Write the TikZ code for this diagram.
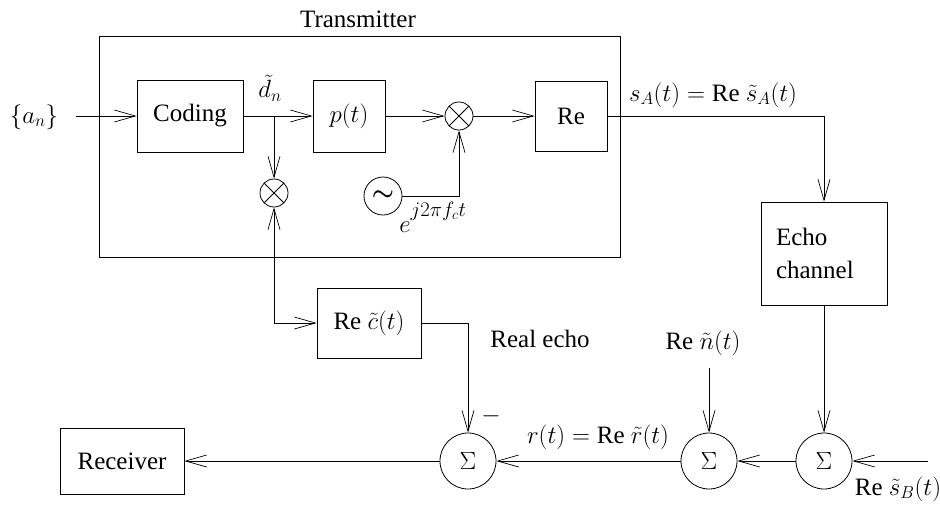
\documentclass[tikz,border=0pt]{standalone}
\usepackage{fontspec}
\setmainfont{Liberation Serif}
\usepackage{amsmath,amssymb}
\usetikzlibrary{arrows.meta}
\begin{document}
\begin{tikzpicture}[x=1pt,y=-1pt, font=\fontsize{25}{30}\selectfont,
  line width=0.8pt,
  arr/.style={-{Straight Barb[length=21pt,width=12pt,line width=0.7pt]}},
  blk/.style={draw, rectangle, inner sep=0pt, line width=0.8pt},
  mult/.style={draw, circle, minimum size=28pt, inner sep=0pt,
    path picture={\draw (path picture bounding box.north west)--(path picture bounding box.south east)
      (path picture bounding box.north east)--(path picture bounding box.south west);}},
  summ/.style={draw, circle, minimum size=56pt, inner sep=0pt},
  lbl/.style={inner sep=0pt}]

\useasboundingbox (0,0) rectangle (940,507);

% transmitter frame
\node[blk, minimum width=521pt, minimum height=221pt] (tx) at (359.5,146.5) {};
\node[lbl] (txl) at (358,19) {Transmitter};

% top chain
\node[lbl] (an) at (34,117) {$\{a_n\}$};
\coordinate (ain) at (76,116);
\node[blk, minimum width=106pt, minimum height=72pt] (coding) at (190,116) {Coding};
\node[blk, minimum width=72pt, minimum height=72pt] (pt) at (349,116) {$p(t)$};
\node[mult] (m1) at (459,116) {};
\node[blk, minimum width=72pt, minimum height=70pt] (re) at (571,116) {Re};
\coordinate (br) at (274,116);
\node[lbl] (dn) at (270,88) {$\tilde d_n$};
\node[mult] (m2) at (274,193) {};
\node[draw, circle, minimum size=38pt, inner sep=0pt] (osc) at (383,196) {$\boldsymbol{\sim}$};
\coordinate (oc) at (459,196);
\node[lbl, anchor=base west] (expl) at (399,232)
  {$e$\raisebox{16pt}{\fontsize{20}{20}\selectfont$j2\pi f_c t$}};

% output and echo channel
\node[lbl] (sal) at (713,95) {$s_A(t) = \mathrm{Re}\ \tilde s_A(t)$};
\coordinate (rc) at (824,116);
\node[blk, minimum width=126pt, minimum height=103pt, text width=96pt, align=left,
      font=\fontsize{25}{33}\selectfont] (echo) at (824,253.5) {Echo\\channel};

% echo canceller branch
\coordinate (j2) at (274,323);
\node[blk, minimum width=104pt, minimum height=70pt] (recho) at (369,323) {Re $\tilde c(t)$};
\coordinate (rcc) at (468,323);
\node[lbl] (rel) at (540,339) {Real echo};

% bottom chain
\node[summ] (s1) at (468,461) {$\Sigma$};
\node[summ] (s2) at (709,461) {$\Sigma$};
\node[summ] (s3) at (824,461) {$\Sigma$};
\node[blk, minimum width=124pt, minimum height=66pt] (recv) at (122,461) {Receiver};
\node[lbl] (minus) at (491,416) {$-$};
\node[lbl] (rl) at (598,437) {$r(t) = \mathrm{Re}\ \tilde r(t)$};
\node[lbl] (nl) at (703,343) {Re $\tilde n(t)$};
\coordinate (nin) at (709,368);
\node[lbl] (sbl) at (898,489) {Re $\tilde s_B(t)$};
\coordinate (sin) at (928,461);

% connectors
\draw[arr] (ain) -- (coding.west);
\draw[arr] (coding.east) -- (pt.west);
\draw[arr] (br) -- (m2.north);
\draw[arr] (pt.east) -- (m1.west);
\draw[arr] (m1.east) -- (re.west);
\draw[arr] (osc.east) -- (oc) -- (m1.south);
\draw[arr] (re.east) -- (rc) -- (echo.north);
\draw[arr] (j2) -- (m2.south);
\draw[arr] (j2) -- (recho.west);
\draw[arr] (recho.east) -- (rcc) -- (s1.north);
\draw[arr] (echo.south) -- (s3.north);
\draw[arr] (sin) -- (s3.east);
\draw[arr] (s3.west) -- (s2.east);
\draw[arr] (nin) -- (s2.north);
\draw[arr] (s2.west) -- (s1.east);
\draw[arr] (s1.west) -- (recv.east);
\end{tikzpicture}
\end{document}
